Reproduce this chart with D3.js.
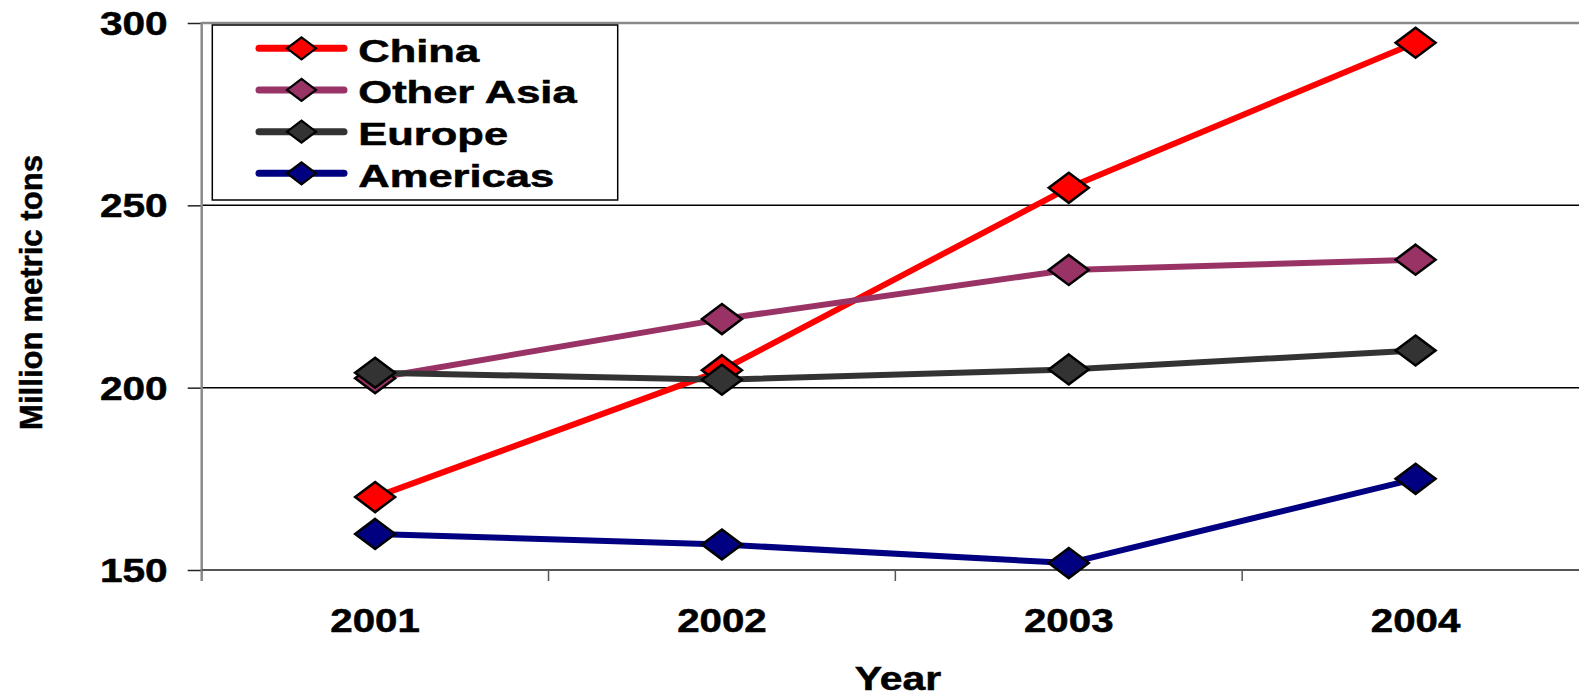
<!DOCTYPE html>
<html><head><meta charset="utf-8">
<script src="https://cdn.jsdelivr.net/npm/d3@7"></script>
<style>
html,body{margin:0;padding:0;background:#fff;}
svg{display:block;}
text{font-family:"Liberation Sans",Arial,sans-serif;font-weight:bold;fill:#000;stroke:#000;stroke-width:0.5px;}
</style></head>
<body>
<svg id="chart" width="1579" height="695"></svg>
<script>
const years = ["2001","2002","2003","2004"];
const seriesNames = ["China","Other Asia","Europe","Americas"];
const china = [170, 204.8, 254.8, 294.6];
const otherAsia = [202.6, 218.8, 232.3, 235.1];
const europe = [204.1, 202.2, 205.0, 210.2];
const americas = [159.9, 157.0, 151.9, 175.0];
const seriesColors = ["#FF0000", "#993366", "#333333", "#000080"];
const yTicks = [150, 200, 250, 300];
const yTitle = "Million metric tons";
const xTitle = "Year";

const seriesValues = [china, otherAsia, europe, americas];
const W = 1579, H = 695;
const pL = 201.7, pR = 1589, pT = 23, pB = 570;
const svg = d3.select("#chart");

const x = d3.scaleBand().domain(years).range([pL, pR]).padding(0);
const y = d3.scaleLinear().domain([150, 300]).range([pB, pT]);
const cx = d => x(d) + x.bandwidth() / 2;

// gridlines
svg.append("g").selectAll("line").data(yTicks.filter(t => t !== 150 && t !== 300)).join("line")
  .attr("x1", pL).attr("x2", W).attr("y1", d => y(d)).attr("y2", d => y(d))
  .attr("stroke", "#000").attr("stroke-width", 1.5);
// top border
svg.append("line").attr("x1", pL).attr("x2", W).attr("y1", y(300)).attr("y2", y(300))
  .attr("stroke", "#8a8a8a").attr("stroke-width", 2.5);

// y axis
const yAxis = svg.append("g").attr("transform", `translate(${pL},0)`)
  .call(d3.axisLeft(y).tickValues(yTicks).tickSize(14).tickPadding(0));
yAxis.select(".domain").remove();
yAxis.selectAll(".tick line").attr("stroke", "#222").attr("stroke-width", 1.5);
yAxis.selectAll(".tick text")
  .attr("x", 0).attr("dy", null).attr("y", 11.6)
  .attr("transform", "translate(-34,0) scale(1.25,1)")
  .attr("text-anchor", "end")
  .style("font-size", "32.5px").style("font-family", "'Liberation Sans',Arial,sans-serif").style("font-weight", "bold")
  .attr("fill", "#000");
svg.append("line").attr("x1", pL).attr("x2", pL).attr("y1", pT - 1).attr("y2", pB + 11)
  .attr("stroke", "#8a8a8a").attr("stroke-width", 2.5);

// x axis
svg.append("line").attr("x1", pL).attr("x2", W).attr("y1", pB).attr("y2", pB)
  .attr("stroke", "#555").attr("stroke-width", 2);
const xb = d3.scaleLinear().domain([0, 4]).range([pL, pR]);
svg.append("g").selectAll("line").data([1, 2, 3]).join("line")
  .attr("x1", d => xb(d)).attr("x2", d => xb(d)).attr("y1", pB).attr("y2", pB + 11)
  .attr("stroke", "#555").attr("stroke-width", 1.5);
svg.append("g").selectAll("text").data(years).join("text")
  .attr("transform", d => `translate(${cx(d)},631.7) scale(1.24,1)`)
  .attr("text-anchor", "middle").style("font-size", "32.5px").text(d => d);

// titles
svg.append("text").attr("transform", "translate(898,690) scale(1.26,1)")
  .attr("text-anchor", "middle").style("font-size", "32.5px").text(xTitle);
svg.append("text").attr("transform", "translate(42,292.5) rotate(-90)")
  .attr("text-anchor", "middle").style("font-size", "32px")
  .attr("textLength", 275).attr("lengthAdjust", "spacingAndGlyphs").text(yTitle);

// series
const line = d3.line().x((d, i) => cx(years[i])).y(d => y(d));
const diamond = (w, h) => `M0,${-h/2}L${w/2},0L0,${h/2}L${-w/2},0Z`;
seriesValues.forEach((vals, s) => {
  const g = svg.append("g");
  g.append("path").datum(vals).attr("d", line).attr("fill", "none")
    .attr("stroke", seriesColors[s]).attr("stroke-width", 6).attr("stroke-linejoin", "round");
  g.selectAll("path.m").data(vals).join("path").attr("class", "m")
    .attr("d", diamond(40, 30))
    .attr("transform", (d, i) => `translate(${cx(years[i])},${y(d)})`)
    .attr("fill", seriesColors[s]).attr("stroke", "#000").attr("stroke-width", 2.5)
    .attr("stroke-linejoin", "miter");
});

// legend
const lg = svg.append("g");
lg.append("rect").attr("x", 212.3).attr("y", 25).attr("width", 405.4).attr("height", 175)
  .attr("fill", "#fff").attr("stroke", "#000").attr("stroke-width", 1.5);
const rowY = d3.scaleLinear().domain([0, 3]).range([48.3, 173.3]);
seriesNames.forEach((name, i) => {
  const yy = rowY(i);
  lg.append("line").attr("x1", 259).attr("x2", 344).attr("y1", yy).attr("y2", yy)
    .attr("stroke", seriesColors[i]).attr("stroke-width", 7).attr("stroke-linecap", "round");
  lg.append("path").attr("d", diamond(29, 22)).attr("transform", `translate(301.5,${yy})`)
    .attr("fill", seriesColors[i]).attr("stroke", "#000").attr("stroke-width", 2.2);
  lg.append("text").attr("transform", `translate(358.3,${yy + 13.4}) scale(1.45,1.04)`)
    .style("font-size", "30px").text(name);
});
</script>
</body></html>
